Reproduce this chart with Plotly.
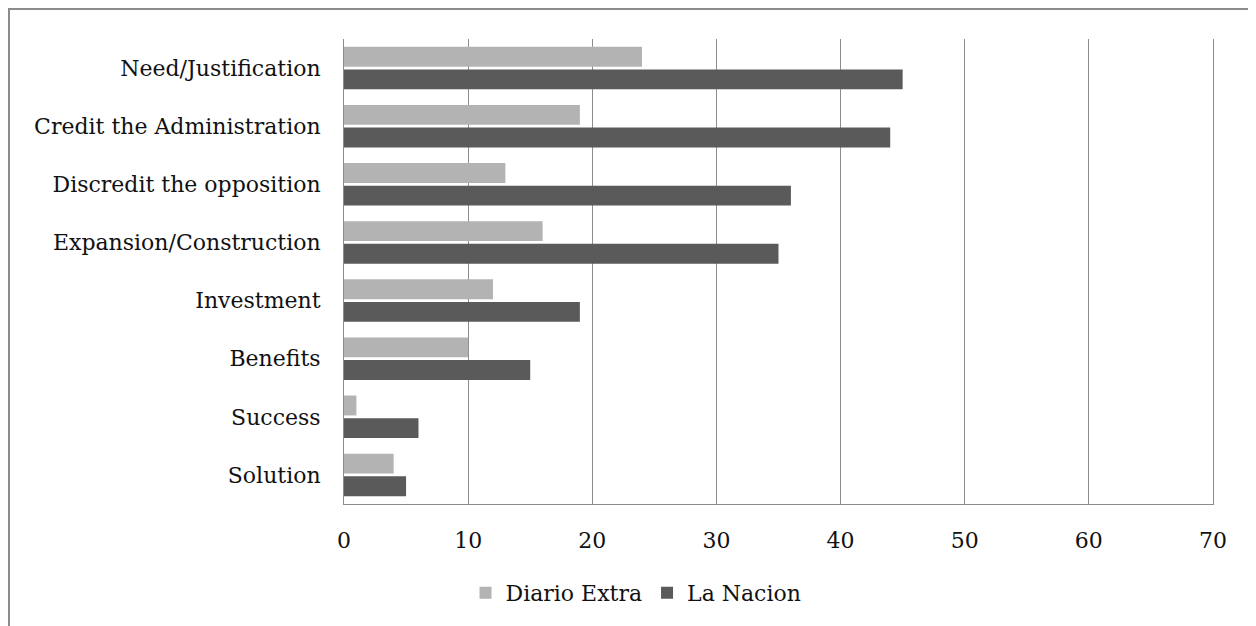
import plotly.graph_objects as go

categories = ["Need/Justification", "Credit the Administration", "Discredit the opposition",
              "Expansion/Construction", "Investment", "Benefits", "Success", "Solution"]
diario_extra = [24, 19, 13, 16, 12, 10, 1, 4]
la_nacion = [45, 44, 36, 35, 19, 15, 6, 5]
x_ticks = [0, 10, 20, 30, 40, 50, 60, 70]

FONT = "DejaVu Serif"
FS = 22

fig = go.Figure()
fig.add_trace(go.Bar(y=categories, x=diario_extra, orientation="h", name="Diario Extra",
                     marker=dict(color="#b3b3b3", line=dict(width=0))))
fig.add_trace(go.Bar(y=categories, x=la_nacion, orientation="h", name="La Nacion",
                     marker=dict(color="#5a5a5a", line=dict(width=0))))

L, T, R, B = 336, 31, 1205, 496  # plot area in figure pixels (page has 8px body offset)
W, H = 1256, 626
fig.update_layout(
    width=W, height=H,
    margin=dict(l=L, r=W - R, t=T, b=H - B),
    paper_bgcolor="white", plot_bgcolor="white",
    barmode="group", bargap=0.22, bargroupgap=0.12,
    font=dict(family=FONT, size=FS, color="#111111"),
    showlegend=True,
    legend=dict(orientation="h", xref="container", yref="container", x=0.5, y=1 - 585 / H,
                xanchor="center", yanchor="middle", font=dict(size=FS, family=FONT),
                traceorder="normal"),
    xaxis=dict(range=[0, 70], tickvals=x_ticks, showgrid=True, gridcolor="#8c8c8c", gridwidth=1,
               showline=True, linecolor="#8c8c8c", linewidth=1, zeroline=False,
               ticks="", ticklabelstandoff=17, tickfont=dict(size=FS, family=FONT)),
    yaxis=dict(autorange="reversed", showline=True, mirror=True, linecolor="#8c8c8c", linewidth=1,
               ticks="", ticklabelstandoff=18, tickfont=dict(size=FS, family=FONT)),
    shapes=[dict(type="rect", xref="paper", yref="paper",
                 x0=(1 - L) / (R - L), x1=(1400 - L) / (R - L),
                 y0=(B - 800) / (B - T), y1=(B - 1) / (B - T),
                 line=dict(color="#8c8c8c", width=2), fillcolor="rgba(0,0,0,0)", layer="below")],
)

fig.write_html("out.html")
